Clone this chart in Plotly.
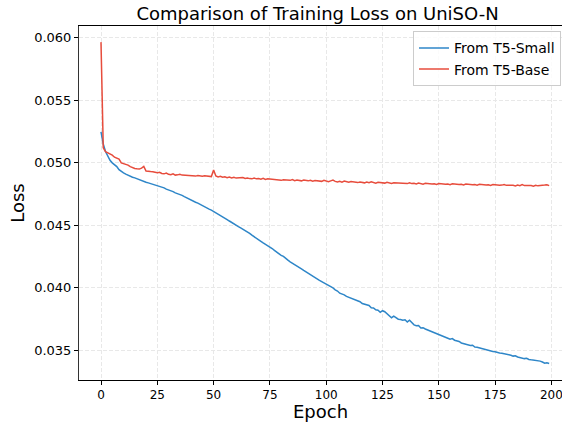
import plotly.graph_objects as go

epochs = list(range(200))

loss_t5_small = [
    0.05248, 0.0515, 0.0509, 0.0505, 0.0502, 0.0500, 0.04985, 0.0497, 0.04945, 0.0493,
    0.0492, 0.0491, 0.0490, 0.04895, 0.04885, 0.0488, 0.04872, 0.04865, 0.04858, 0.0485,
    0.04845, 0.0484, 0.04835, 0.04828, 0.04825, 0.0482, 0.04812, 0.04805, 0.048, 0.0479,
    0.04785, 0.04778, 0.0477, 0.0476, 0.04755, 0.04745, 0.0474, 0.0473, 0.0472, 0.04712,
    0.04705, 0.04695, 0.04685, 0.04678, 0.04668, 0.04655, 0.04645, 0.04638, 0.0463, 0.04622,
    0.04612, 0.04602, 0.04592, 0.0458, 0.0457, 0.04558, 0.04547, 0.04535, 0.04522, 0.0451,
    0.045, 0.0449, 0.0448, 0.0447, 0.0446, 0.0445, 0.04436, 0.04422, 0.04408, 0.04395,
    0.04382, 0.04372, 0.0436, 0.0435, 0.0434, 0.04328, 0.04315, 0.043, 0.04285, 0.04272,
    0.0426, 0.04252, 0.0424, 0.04222, 0.04208, 0.04198, 0.04188, 0.04175, 0.04165, 0.04152,
    0.0414, 0.04128, 0.04115, 0.04102, 0.0409, 0.0408, 0.0407, 0.0406, 0.0405, 0.0404,
    0.04032, 0.04022, 0.04012, 0.04, 0.03985, 0.03975, 0.03958, 0.03952, 0.03945, 0.03932,
    0.03925, 0.03922, 0.0391, 0.03902, 0.03895, 0.0389, 0.03875, 0.03868, 0.03862, 0.0386,
    0.03842, 0.0384, 0.03825, 0.03822, 0.03805, 0.03818, 0.0381, 0.03792, 0.03778, 0.03762,
    0.03775, 0.03765, 0.0375, 0.03748, 0.03742, 0.03745, 0.03728, 0.03742, 0.0372, 0.03705,
    0.03698, 0.037, 0.0368, 0.03682, 0.03672, 0.03665, 0.0366, 0.0365, 0.03642, 0.03635,
    0.0363, 0.03622, 0.03612, 0.03605, 0.03598, 0.0359, 0.03595, 0.03582, 0.0358, 0.03572,
    0.0356, 0.03555, 0.03552, 0.03545, 0.0354, 0.03542, 0.03528, 0.03525, 0.0352, 0.03518,
    0.0351, 0.03502, 0.035, 0.03495, 0.03492, 0.0349, 0.03482, 0.0348, 0.03478, 0.03475,
    0.0347, 0.03468, 0.03462, 0.03455, 0.03458, 0.03448, 0.03444, 0.0344, 0.03435, 0.03438,
    0.03428, 0.03425, 0.03422, 0.03424, 0.0342, 0.03415, 0.03408, 0.03398, 0.03402, 0.03396,
]

loss_t5_base = [
    0.05965, 0.0512, 0.0509, 0.0508, 0.05072, 0.05062, 0.05045, 0.05035, 0.0503, 0.05,
    0.04995, 0.04988, 0.04982, 0.0497, 0.0496, 0.04955, 0.04952, 0.0495, 0.04958, 0.04972,
    0.04935, 0.04935, 0.0493, 0.04928, 0.04922, 0.0492, 0.04925, 0.04915, 0.04912, 0.04918,
    0.04908, 0.04905, 0.04912, 0.04902, 0.04904, 0.04908, 0.04902, 0.049, 0.04898, 0.04902,
    0.04896, 0.04898, 0.04894, 0.04898, 0.04895, 0.04893, 0.04896, 0.04892, 0.04894, 0.0489,
    0.04942, 0.04895, 0.04888, 0.04892, 0.04885, 0.04888, 0.04882, 0.04886, 0.0488, 0.04884,
    0.04878, 0.0488, 0.04876, 0.04882, 0.04875, 0.04878, 0.04874, 0.04872, 0.04878, 0.04872,
    0.04874, 0.0487, 0.04876, 0.04868, 0.04872, 0.0487, 0.04866, 0.04868, 0.04864, 0.04866,
    0.0486, 0.04864, 0.04862, 0.04864, 0.0486, 0.04866, 0.04858, 0.04862, 0.0486, 0.04856,
    0.04862, 0.04858, 0.04856, 0.0486, 0.04854, 0.04858, 0.04855, 0.04856, 0.04852, 0.0486,
    0.04855, 0.0485, 0.04856, 0.04862, 0.04852, 0.04848, 0.04852, 0.04846, 0.04854, 0.04848,
    0.04845, 0.0485, 0.04846, 0.04848, 0.04842, 0.04846, 0.04844, 0.0484, 0.04846, 0.04842,
    0.04848, 0.04842, 0.04838, 0.04844, 0.0484, 0.04842, 0.04838, 0.04845, 0.0484, 0.04836,
    0.0484, 0.04838, 0.04842, 0.04835, 0.04838, 0.04836, 0.04834, 0.0484, 0.04834, 0.04836,
    0.04832, 0.04838, 0.04834, 0.0483, 0.04836, 0.04832, 0.04834, 0.0483, 0.04832, 0.04828,
    0.04834, 0.0483, 0.04832, 0.04828, 0.0483, 0.04826, 0.04832, 0.04828, 0.0483, 0.04826,
    0.04828, 0.04824, 0.0483, 0.04826, 0.04828, 0.04824, 0.04826, 0.04822, 0.04828, 0.04824,
    0.04826, 0.04822, 0.04824, 0.0482, 0.04826, 0.04822, 0.04824, 0.0482, 0.04822, 0.04826,
    0.0482, 0.04822, 0.04818, 0.0482, 0.04816, 0.04822, 0.04818, 0.04826, 0.04818, 0.0482,
    0.04816, 0.04818, 0.04814, 0.0482, 0.04816, 0.04818, 0.04814, 0.04822, 0.04825, 0.04818,
]

x_ticks = [0, 25, 50, 75, 100, 125, 150, 175, 200]
y_ticks = [0.035, 0.040, 0.045, 0.050, 0.055, 0.060]
y_tick_text = ["0.035", "0.040", "0.045", "0.050", "0.055", "0.060"]

FONT = "DejaVu Sans"

fig = go.Figure()
fig.add_trace(go.Scatter(x=epochs, y=loss_t5_small, mode="lines", name="From T5-Small",
                         line=dict(color="#2E86C8", width=1.5)))
fig.add_trace(go.Scatter(x=epochs, y=loss_t5_base, mode="lines", name="From T5-Base",
                         line=dict(color="#E74C3C", width=1.5)))

fig.update_layout(
    width=562, height=422,
    margin=dict(l=79, r=0, t=26, b=42),
    paper_bgcolor="white", plot_bgcolor="white",
    font=dict(family=FONT, color="black", size=13),
    title=dict(text="Comparison of Training Loss on UniSO-N", x=0.565, xanchor="center",
               y=0.967, yanchor="middle", font=dict(size=18, family=FONT)),
    legend=dict(x=0.998, y=0.985, xanchor="right", yanchor="top",
                bgcolor="rgba(255,255,255,0.8)", bordercolor="#cccccc", borderwidth=1,
                font=dict(size=14, family=FONT), tracegroupgap=0),
    showlegend=True,
)

fig.update_xaxes(
    range=[-9.77, 204.7], tickvals=x_ticks, ticks="outside", ticklen=4, tickcolor="black",
    showline=True, linecolor="black", linewidth=1, mirror=True,
    showgrid=True, gridcolor="#e8e8e8", griddash="4px,2px", gridwidth=1, zeroline=False,
    title=dict(text="Epoch", font=dict(size=18, family=FONT), standoff=4),
    tickfont=dict(size=12, family=FONT), ticklabeloverflow="allow",
)
fig.update_yaxes(
    range=[0.03264, 0.06094], tickvals=y_ticks, ticktext=y_tick_text, ticks="outside", ticklen=4,
    tickcolor="black", showline=True, linecolor="#333333", linewidth=1, mirror=False,
    showgrid=True, gridcolor="#e8e8e8", griddash="4px,2px", gridwidth=1, zeroline=False,
    title=dict(text="Loss", font=dict(size=18, family=FONT), standoff=4),
    tickfont=dict(size=13, family=FONT),
)

fig.write_html("out.html")
